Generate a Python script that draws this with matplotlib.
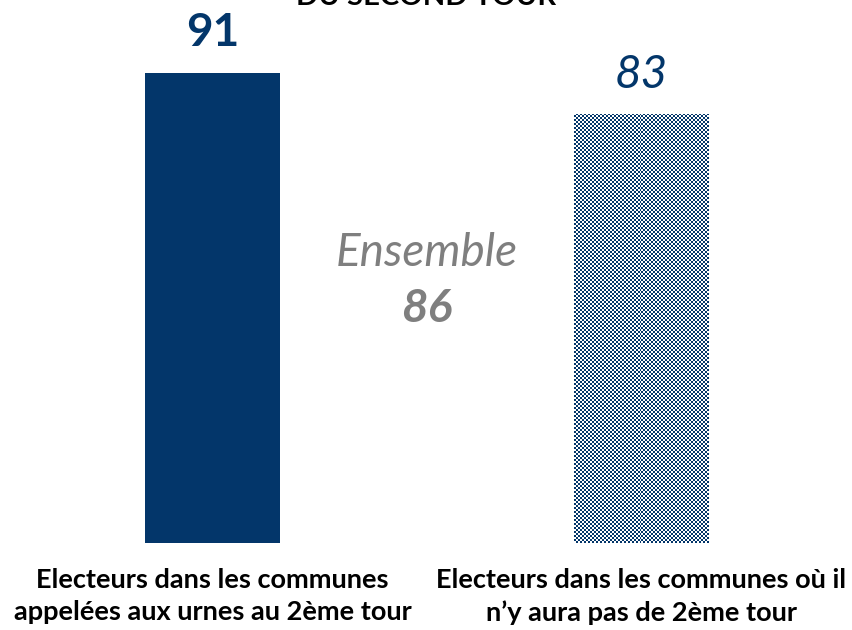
import numpy as np
import matplotlib
matplotlib.use("Agg")
import matplotlib.pyplot as plt

# Data
categories = [
    "Electeurs dans les communes\nappelées aux urnes au 2ème tour",
    "Electeurs dans les communes où il\nn’y aura pas de 2ème tour",
]
values = [91, 83]
overall_label = "Ensemble"
overall_value = 86
title = "DU SECOND TOUR"

NAVY = "#03366a"
GREY = "#7f7f7f"

plt.rcParams["font.family"] = ["Lato", "DejaVu Sans"]

W, H = 853, 630
fig = plt.figure(figsize=(W / 100, H / 100), dpi=100)
# axes covers full width; y=0 at pixel 543 from top
ax = fig.add_axes([0, (H - 543) / H, 1, 517 / H])
px_per_unit = 429
ax.axis("off")

x = np.arange(len(values))
width = 135 / px_per_unit

bars = ax.bar(x, values, width=width, color=[NAVY, "none"], edgecolor="none")

# checkerboard fill for the second bar
b = bars[1]
x0, y0 = b.get_x(), b.get_y()
x1, y1 = x0 + b.get_width(), y0 + b.get_height()
nx = int(round(135 / 2))
ny = int(round(b.get_height() * 5.17 / 2))
board = (np.indices((ny, nx)).sum(axis=0) % 2).astype(float)
cmap = matplotlib.colors.ListedColormap(["white", NAVY])
img = ax.imshow(board, extent=(x0, x1, y0, y1), cmap=cmap, interpolation="nearest",
                aspect="auto", zorder=2)
img.set_clip_path(b)
ax.set_xlim(-212.5 / px_per_unit, (W - 212.5) / px_per_unit)
ax.set_ylim(0, 100)

# value labels
ax.text(x[0], values[0] + 3.6, str(values[0]), ha="center", va="bottom",
        fontsize=33, fontweight="bold", color=NAVY)
ax.text(x[1], values[1] + 3.4, str(values[1]), ha="center", va="bottom",
        fontsize=33, fontstyle="italic", color=NAVY)

# overall
ax.text(0.5, 56, overall_label, ha="center", va="center", fontsize=33,
        fontstyle="italic", color=GREY)
ax.text(0.5, 45.3, str(overall_value), ha="center", va="center", fontsize=33,
        fontstyle="italic", fontweight="bold", color=GREY)

# category labels
for xi, lab in zip(x, categories):
    ax.text(xi, -4.8, lab, ha="center", va="top", fontsize=19.5,
            fontweight="bold", color="black", linespacing=1.4)

# title is partly cut off at the top edge, as in the reference
fig.text(0.5, 1 - 5 / H, title, ha="center", va="baseline", fontsize=21,
         fontweight="bold", color="black")

fig.savefig("out.png", dpi=100)
